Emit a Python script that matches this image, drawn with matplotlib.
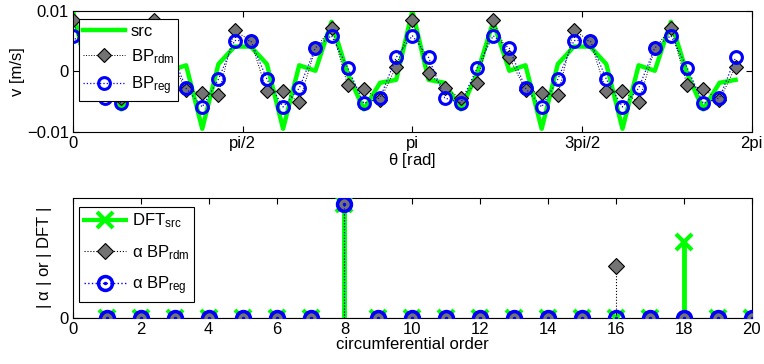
import numpy as np
import matplotlib
matplotlib.use('Agg')
from matplotlib import pyplot as plt
from matplotlib.lines import Line2D

plt.rcParams['font.family'] = ['Liberation Sans', 'DejaVu Sans']
plt.rcParams['font.size'] = 12
plt.rcParams['mathtext.fontset'] = 'custom'
plt.rcParams['mathtext.rm'] = 'Liberation Sans'
plt.rcParams['mathtext.it'] = 'Liberation Sans'

# top: velocity at 42 regular angles, 0 .. 2pi (last point excluded)
n_pts = 42
src = [0.0100, -0.0014, -0.0019, -0.0063, -0.0004, 0.0082, 0.0001, 0.0010,
       -0.0095, 0.0012, 0.0041, 0.0041, 0.0012, -0.0095, 0.0010, 0.0001,
       0.0082, -0.0004, -0.0063, -0.0019, -0.0014,
       0.0100, -0.0014, -0.0019, -0.0063, -0.0004, 0.0082, 0.0001, 0.0010,
       -0.0095, 0.0012, 0.0041, 0.0041, 0.0012, -0.0095, 0.0010, 0.0001,
       0.0082, -0.0004, -0.0063, -0.0019, -0.0014]
bp_rdm = [0.0085, -0.0002, -0.0028, -0.0044, -0.0019, 0.0085, 0.0023, -0.0031,
          -0.0036, -0.0039, 0.0068, 0.0050, -0.0033, -0.0033, -0.0051, 0.0038,
          0.0072, -0.0023, -0.0029, -0.0048, 0.0008,
          0.0085, -0.0002, -0.0028, -0.0044, -0.0019, 0.0085, 0.0023, -0.0031,
          -0.0036, -0.0039, 0.0068, 0.0050, -0.0033, -0.0033, -0.0051, 0.0038,
          0.0072, -0.0023, -0.0029, -0.0048, 0.0008]
bp_reg = [0.0059, 0.0023, -0.0044, -0.0052, 0.0005, 0.0059, 0.0038, -0.0028,
          -0.0059, -0.0013, 0.0051, 0.0051, -0.0013, -0.0059, -0.0028, 0.0039,
          0.0059, 0.0006, -0.0053, -0.0044, 0.0023,
          0.0059, 0.0023, -0.0044, -0.0052, 0.0005, 0.0059, 0.0038, -0.0028,
          -0.0059, -0.0013, 0.0051, 0.0051, -0.0013, -0.0059, -0.0028, 0.0039,
          0.0059, 0.0006, -0.0053, -0.0044, 0.0023]

# bottom: spectrum magnitude per circumferential order
orders = list(range(1, 21))
dft_src = [0, 0, 0, 0, 0, 0, 0, 0.0060, 0, 0, 0, 0, 0, 0, 0, 0, 0, 0.0040, 0, 0]
alpha_rdm = [0, 0, 0, 0, 0, 0, 0, 0.0060, 0, 0, 0, 0, 0, 0, 0, 0.00274, 0, 0, 0, 0]
alpha_reg = [0, 0, 0, 0, 0, 0, 0, 0.0060, 0, 0, 0, 0, 0, 0, 0, 0, 0, 0, 0, 0]

theta = np.linspace(0, 2 * np.pi, n_pts, endpoint=False)
green = (0, 1, 0)
gray = (0.45, 0.45, 0.45)

fig = plt.figure(figsize=(7.64, 3.64), dpi=100)

# ---- top panel
ax1 = fig.add_axes([0.0955, 0.638, 0.8885, 0.332])
l_src, = ax1.plot(theta, src, '-', color=green, lw=3.2, label='src')
l_rdm, = ax1.plot(theta, bp_rdm, ':', color='k', lw=0.7, marker='D', ms=7,
                  mfc=gray, mec='k', mew=0.8, label=r'BP$_{\rm rdm}$')
l_reg, = ax1.plot(theta, bp_reg, ':', color='b', lw=0.9, marker='o', ms=8.5,
                  mfc='none', mec='b', mew=2.2, label=r'BP$_{\rm reg}$')
ax1.set_xlim(0, 2 * np.pi)
ax1.set_ylim(-0.01, 0.01)
ax1.set_xticks([0, np.pi / 2, np.pi, 3 * np.pi / 2, 2 * np.pi])
ax1.set_xticklabels(['0', 'pi/2', 'pi', '3pi/2', '2pi'])
ax1.set_yticks([-0.01, 0, 0.01])
ax1.set_yticklabels(['\u22120.01', '0', '0.01'])
ax1.set_xlabel(r'$\theta$ [rad]', labelpad=0)
ax1.set_ylabel('v [m/s]', labelpad=1)
leg1 = ax1.legend(handles=[l_src, l_rdm, l_reg], loc='upper left',
                  bbox_to_anchor=(0.009, 0.93), fancybox=False, edgecolor='k',
                  framealpha=1, handlelength=2.5, borderpad=0.25, labelspacing=0.5,
                  handletextpad=0.35, borderaxespad=0)
leg1.get_frame().set_linewidth(0.8)

# ---- bottom panel
ax2 = fig.add_axes([0.0955, 0.127, 0.8885, 0.328])
ax2.vlines(orders, 0, dft_src, color=green, lw=3.5, zorder=3)
ax2.plot(orders, dft_src, 'x', color=green, ms=12, mew=3, zorder=3)
ax2.vlines(orders, 0, alpha_rdm, color='k', lw=0.8, linestyles=':', zorder=4)
ax2.plot(orders, alpha_rdm, 'D', ms=8, mfc=gray, mec='k', mew=0.8, zorder=4)
ax2.vlines(orders, 0, alpha_reg, color='b', lw=0.8, linestyles=':', zorder=5)
ax2.plot(orders, alpha_reg, 'o', ms=10, mfc='none', mec='b', mew=2.5, zorder=5)
ax2.plot(orders, alpha_reg, '.', color='b', ms=3, zorder=6)
ax2.axhline(0, color='k', lw=0.8, zorder=2)
ax2.set_xlim(0, 20)
ax2.set_ylim(0, 0.00628)
ax2.set_xticks(range(0, 21, 2))
ax2.set_yticks([0])
ax2.set_yticklabels(['0'])
ax2.set_xlabel('circumferential order', labelpad=0)
ax2.set_ylabel(r'| $\alpha$ | or | DFT |', labelpad=4)

h_dft = Line2D([], [], color=green, lw=3, marker='x', ms=12, mew=3)
h_rdm = Line2D([], [], color='k', lw=0.8, ls=':', marker='D', ms=8,
               mfc=gray, mec='k', mew=0.8)
h_reg = (Line2D([], [], color='b', lw=1.0, ls=':', marker='o', ms=10,
                mfc='none', mec='b', mew=2.5),
         Line2D([], [], color='b', ls='none', marker='.', ms=3))
leg2 = ax2.legend([h_dft, h_rdm, h_reg],
                  [r'DFT$_{\rm src}$', r'$\alpha$ BP$_{\rm rdm}$', r'$\alpha$ BP$_{\rm reg}$'],
                  loc='upper left', bbox_to_anchor=(0.009, 0.93), fancybox=False,
                  edgecolor='k', framealpha=1, handlelength=2.5, borderpad=0.3,
                  labelspacing=0.75, handletextpad=0.35, borderaxespad=0)
leg2.get_frame().set_linewidth(0.8)

for ax in (ax1, ax2):
    ax.tick_params(direction='in', top=True, right=True, length=4, width=0.8,
                   labelsize=12, pad=3)
    for s in ax.spines.values():
        s.set_linewidth(0.8)

fig.savefig('out.png', dpi=100)
